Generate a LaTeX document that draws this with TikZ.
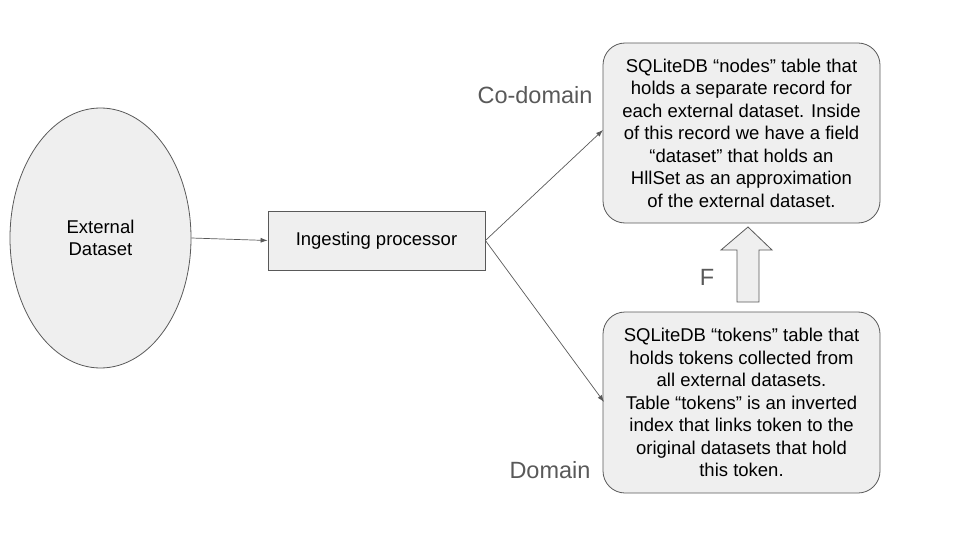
\documentclass[tikz,border=0pt]{standalone}
\usepackage{fontspec}
\setmainfont{Liberation Sans}
\usetikzlibrary{shapes.geometric,arrows.meta}
\definecolor{boxfill}{HTML}{EFEFEF}
\definecolor{edge}{HTML}{595959}
\tikzset{
  shapebox/.style={draw=edge, fill=boxfill, line width=0.8pt},
  boxtext/.style={font=\fontsize{18.5}{22.5}\selectfont, align=center, text=black},
  label/.style={font=\fontsize{23.5}{26}\selectfont, text=edge},
  conn/.style={draw=edge, line width=0.7pt, -{Latex[length=7pt,width=5pt]}}
}
\begin{document}
\begin{tikzpicture}[x=1pt,y=-1pt]
\useasboundingbox (0,0) rectangle (960,540);
\node[shapebox, ellipse, minimum width=181pt, minimum height=260pt, inner sep=0pt, boxtext] (ext) at (100.5,238) {External\\Dataset};
\node[shapebox, rectangle, minimum width=217pt, minimum height=59pt, boxtext] (ing) at (376.5,240.5) {Ingesting processor};
\node[shapebox, rectangle, rounded corners=22pt, minimum width=277pt, minimum height=180pt, boxtext] (nodes) at (741.5,133) {SQLiteDB “nodes” table that\\holds a separate record for\\each external dataset. Inside\\of this record we have a field\\“dataset” that holds an\\HllSet as an approximation\\of the external dataset.};
\node[shapebox, rectangle, rounded corners=22pt, minimum width=277pt, minimum height=181pt, boxtext] (tokens) at (741.5,402.5) {SQLiteDB “tokens” table that\\holds tokens collected from\\all external datasets.\\Table “tokens” is an inverted\\index that links token to the\\original datasets that hold\\this token.};
\coordinate (ext-e) at (ext.east);
\draw[conn] (ext.east) -- (ing.west);
\coordinate (ing-e) at (ing.east);
\coordinate (nodes-in) at (603,130);
\coordinate (tokens-in) at (604,402);
\draw[conn] (ing.east) -- (nodes-in);
\draw[conn] (ing.east) -- (tokens-in);
\draw[shapebox, line width=0.8pt] (737,302) -- (737,250) -- (721,250) -- (748,227) -- (772,250) -- (759,250) -- (759,302) -- cycle;
\node[label] (F) at (707,277) {F};
\node[label] (cod) at (535,95) {Co-domain};
\node[label] (dom) at (550,470) {Domain};
\end{tikzpicture}
\end{document}
